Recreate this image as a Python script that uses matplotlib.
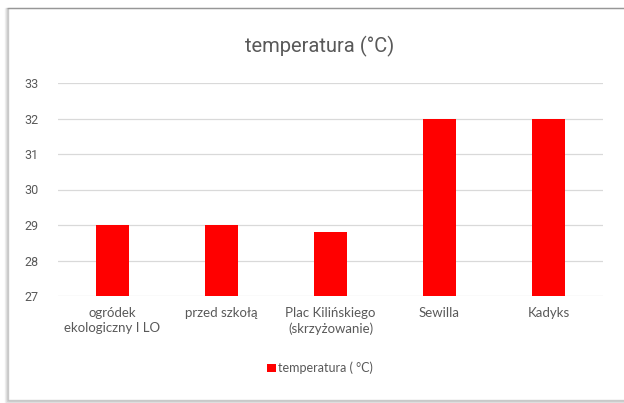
import matplotlib.pyplot as plt
from matplotlib.patches import Rectangle

# ─── Data ────────────────────────────────────────────
locations = [
    "ogródek\nekologiczny I LO",
    "przed szkołą",
    "Plac Kilińskiego\n(skrzyżowanie)",
    "Sewilla",
    "Kadyks",
]
temperatures = [29.0, 29.0, 28.8, 32.0, 32.0]
y_ticks = [27, 28, 29, 30, 31, 32, 33]

BAR_COLOR = "#ff0000"
TEXT_COLOR = "#595959"
GRID_COLOR = "#d9d9d9"

W, H = 624, 403
fig = plt.figure(figsize=(W / 100, H / 100), dpi=100)
fig.patch.set_facecolor("white")

# card frame (pixel coords, origin bottom-left) with a soft shadow
left, bottom, width, height = 8, 3, 660, 392
for off, alpha in [(3, 0.05), (2, 0.09), (1, 0.15)]:
    fig.add_artist(Rectangle((left - off, bottom - off), width, height + off,
                             transform=None, fill=False,
                             edgecolor="black", alpha=alpha, lw=1))
fig.add_artist(Rectangle((left, bottom), width, height, transform=None,
                         facecolor="white", edgecolor="#cfcfcf", lw=1, zorder=0))

ax = fig.add_axes([58 / W, 1 - 296 / H, 545 / W, 213 / H])
ax.set_facecolor("none")

x = range(len(locations))
ax.bar(x, temperatures, width=0.30, color=BAR_COLOR, zorder=3)
ax.set_ylim(27, 33)
ax.set_xlim(-0.5, len(locations) - 0.5)
ax.set_yticks(y_ticks)
ax.yaxis.grid(True, color=GRID_COLOR, lw=0.9)
ax.set_axisbelow(True)
for s in ax.spines.values():
    s.set_visible(False)
ax.tick_params(length=0)
ax.tick_params(axis="y", pad=14, labelsize=9, labelcolor=TEXT_COLOR)
ax.set_yticklabels([str(t) for t in y_ticks], family="Roboto")
ax.set_xticks(list(x))
ax.set_xticklabels(locations, family="Lato", fontsize=9.5, color=TEXT_COLOR,
                   linespacing=1.3)
ax.tick_params(axis="x", pad=8)

fig.text(320 / W, 1 - 46 / H, "temperatura (°C)", ha="center", va="center",
         family="Roboto", fontsize=14.5, color=TEXT_COLOR)

leg = ax.legend(["temperatura ( °C)"], loc="center",
                bbox_to_anchor=(320 / W, 1 - 368 / H),
                bbox_transform=fig.transFigure, frameon=False,
                handlelength=0.7, handleheight=0.7, handletextpad=0.2,
                prop={"family": "Lato", "size": 9})
for t in leg.get_texts():
    t.set_color(TEXT_COLOR)

fig.savefig("out.png", dpi=100)
